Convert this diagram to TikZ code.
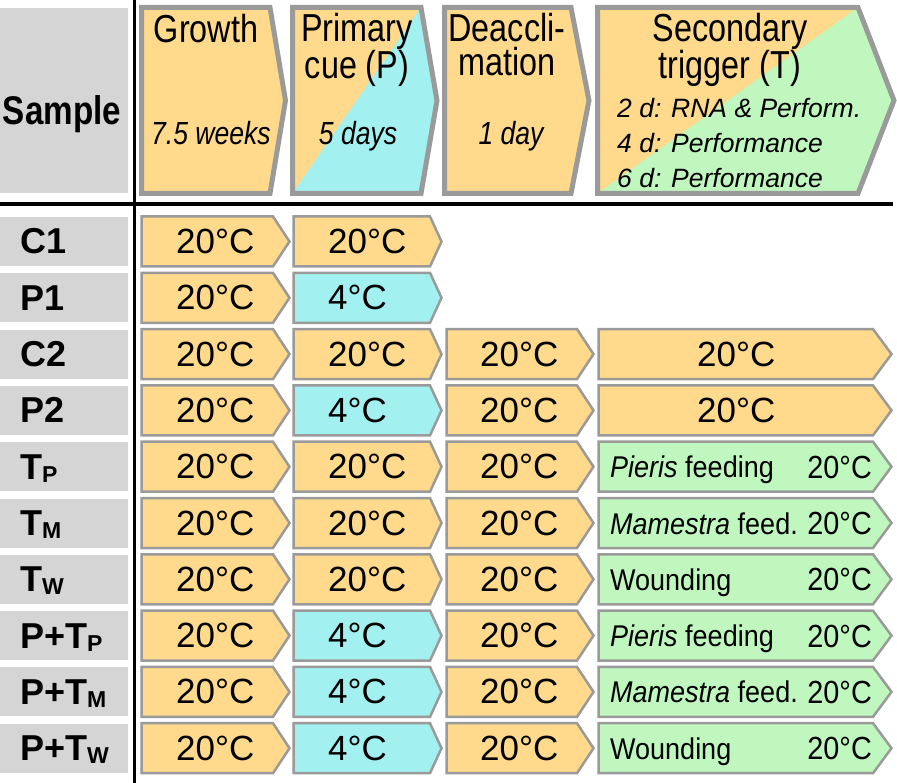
\documentclass[tikz,border=0pt]{standalone}
\usepackage{fontspec}
\setmainfont{Liberation Sans}
\newfontfamily\hdfont[FakeStretch=0.83]{Liberation Sans}
\newfontfamily\grfont[FakeStretch=0.9]{Liberation Sans}
\definecolor{cOr}{HTML}{FFD98C}
\definecolor{cCy}{HTML}{A3F0F0}
\definecolor{cGr}{HTML}{BFF7BF}
\definecolor{cLab}{HTML}{D5D5D5}
\definecolor{cEdge}{HTML}{9A9A9A}
\newcommand\cellbox[6]{%
  \path[cellline,fill=#6] (#2,#5-25) -- (#3,#5-25) -- (#4,#5) -- (#3,#5+25) -- (#2,#5+25) -- cycle;
  \coordinate (#1) at (#2,#5);}
\newcommand\colA[2]{\cellbox{#1}{141.5}{273}{289.5}{#2}{cOr}\node[val,anchor=base west] (#1t) at (176,#2+12) {20°C};}
\newcommand\colB[4]{\cellbox{#1}{293.5}{430}{441.5}{#2}{#3}\node[val,anchor=base west] (#1t) at (328,#2+12) {#4};}
\newcommand\colC[2]{\cellbox{#1}{446.5}{577}{593.5}{#2}{cOr}\node[val,anchor=base west] (#1t) at (480,#2+12) {20°C};}
\newcommand\colD[2]{\cellbox{#1}{598.5}{873}{891.5}{#2}{cOr}\node[val,anchor=base west] (#1t) at (697,#2+12) {20°C};}
\newcommand\colE[3]{\cellbox{#1}{598.5}{873}{891.5}{#2}{cGr}\node[gval,anchor=base west] (#1t) at (610,#2+11) {#3};\node[gtmp,anchor=base east] (#1u) at (872,#2+11.5) {20°C};}
\newcommand\rowlab[3]{\fill[cLab] (0,#2-24.5) rectangle (128,#2+24.5);\node[lab,anchor=base west] (#1) at (20,#2+12.5) {#3};}
\newcommand\sbs[1]{{\fontsize{23}{23}\selectfont\raisebox{-3pt}{#1}}}
\begin{document}
\begin{tikzpicture}[x=1pt,y=-1pt,
  cellline/.style={draw=cEdge,line width=2.5pt,line join=miter},
  hdline/.style={draw=cEdge,line width=5pt,line join=miter},
  val/.style={inner sep=0pt,font=\fontsize{35}{40}\selectfont},
  gval/.style={inner sep=0pt,font=\grfont\fontsize{30}{34}\selectfont},
  gtmp/.style={inner sep=0pt,font=\grfont\fontsize{32}{34}\selectfont},
  lab/.style={inner sep=0pt,font=\bfseries\fontsize{36}{40}\selectfont},
  hd/.style={inner sep=0pt,anchor=base,align=center,font=\hdfont\fontsize{39}{34}\selectfont},
  hdi/.style={inner sep=0pt,anchor=base,font=\hdfont\itshape\fontsize{32}{36}\selectfont},
  hds/.style={inner sep=0pt,anchor=base west,align=left,font=\itshape\fontsize{26.5}{35}\selectfont}]
\useasboundingbox (0,0) rectangle (897,783);
% header
\fill[cLab] (0,8) rectangle (128,193);
\node[inner sep=0pt,anchor=base,font=\hdfont\bfseries\fontsize{40}{44}\selectfont] (sample) at (62,125) {Sample};
\fill[cOr] (141.5,7.5) -- (270,7.5) -- (285.5,100.5) -- (270,193.5) -- (141.5,193.5) -- cycle;
\fill[cOr] (292.5,7.5) -- (421,7.5) -- (437,100.5) -- (421,193.5) -- (292.5,193.5) -- cycle;
\fill[cCy] (292.5,193.5) -- (421,7.5) -- (437,100.5) -- (421,193.5) -- cycle;
\fill[cOr] (444.5,7.5) -- (571,7.5) -- (589,100.5) -- (571,193.5) -- (444.5,193.5) -- cycle;
\fill[cOr] (597.5,7.5) -- (858,7.5) -- (894,100.5) -- (858,193.5) -- (597.5,193.5) -- cycle;
\fill[cGr] (597.5,193.5) -- (858,7.5) -- (894,100.5) -- (858,193.5) -- cycle;
\path[hdline] (141.5,7.5) -- (270,7.5) -- (285.5,100.5) -- (270,193.5) -- (141.5,193.5) -- cycle;
\path[hdline] (292.5,7.5) -- (421,7.5) -- (437,100.5) -- (421,193.5) -- (292.5,193.5) -- cycle;
\path[hdline] (444.5,7.5) -- (571,7.5) -- (589,100.5) -- (571,193.5) -- (444.5,193.5) -- cycle;
\path[hdline] (597.5,7.5) -- (858,7.5) -- (894,100.5) -- (858,193.5) -- (597.5,193.5) -- cycle;
\node[hd] (hg) at (206,43) {Growth};
\node[hdi] (hgd) at (211,145) {7.5 weeks};
\node[hd,anchor=north] (hp) at (357,13) {Primary\\cue (P)};
\node[hdi] (hpd) at (358,145) {5 days};
\node[hd,anchor=north] (hd) at (507,13) {Deaccli-\\mation};
\node[hdi] (hdd) at (511,145) {1 day};
\node[hd,anchor=north] (hs) at (730,13) {Secondary\\trigger (T)};
\node[hds,anchor=north west] (hsl) at (617,98) {2 d: RNA \& Perform.\\4 d: Performance\\6 d: Performance};
% rules
\draw[line width=3.5pt] (134.5,0) -- (134.5,783);
\draw[line width=4.5pt] (0,204) -- (893,204);
% rows
\rowlab{l1}{241.5}{C1}
\colA{a1}{241.5}\colB{b1}{241.5}{cOr}{20°C}
\rowlab{l2}{297.8}{P1}
\colA{a2}{297.8}\colB{b2}{297.8}{cCy}{4°C}
\rowlab{l3}{354.1}{C2}
\colA{a3}{354.1}\colB{b3}{354.1}{cOr}{20°C}\colC{c3}{354.1}\colD{d3}{354.1}
\rowlab{l4}{410.4}{P2}
\colA{a4}{410.4}\colB{b4}{410.4}{cCy}{4°C}\colC{c4}{410.4}\colD{d4}{410.4}
\rowlab{l5}{466.7}{T\sbs{P}}
\colA{a5}{466.7}\colB{b5}{466.7}{cOr}{20°C}\colC{c5}{466.7}\colE{e5}{466.7}{\textit{Pieris} feeding}
\rowlab{l6}{523.0}{T\sbs{M}}
\colA{a6}{523.0}\colB{b6}{523.0}{cOr}{20°C}\colC{c6}{523.0}\colE{e6}{523.0}{\textit{Mamestra} feed.}
\rowlab{l7}{579.3}{T\sbs{W}}
\colA{a7}{579.3}\colB{b7}{579.3}{cOr}{20°C}\colC{c7}{579.3}\colE{e7}{579.3}{Wounding}
\rowlab{l8}{635.6}{P+T\sbs{P}}
\colA{a8}{635.6}\colB{b8}{635.6}{cCy}{4°C}\colC{c8}{635.6}\colE{e8}{635.6}{\textit{Pieris} feeding}
\rowlab{l9}{691.9}{P+T\sbs{M}}
\colA{a9}{691.9}\colB{b9}{691.9}{cCy}{4°C}\colC{c9}{691.9}\colE{e9}{691.9}{\textit{Mamestra} feed.}
\rowlab{l10}{748.2}{P+T\sbs{W}}
\colA{a10}{748.2}\colB{b10}{748.2}{cCy}{4°C}\colC{c10}{748.2}\colE{e10}{748.2}{Wounding}
\end{tikzpicture}
\end{document}
